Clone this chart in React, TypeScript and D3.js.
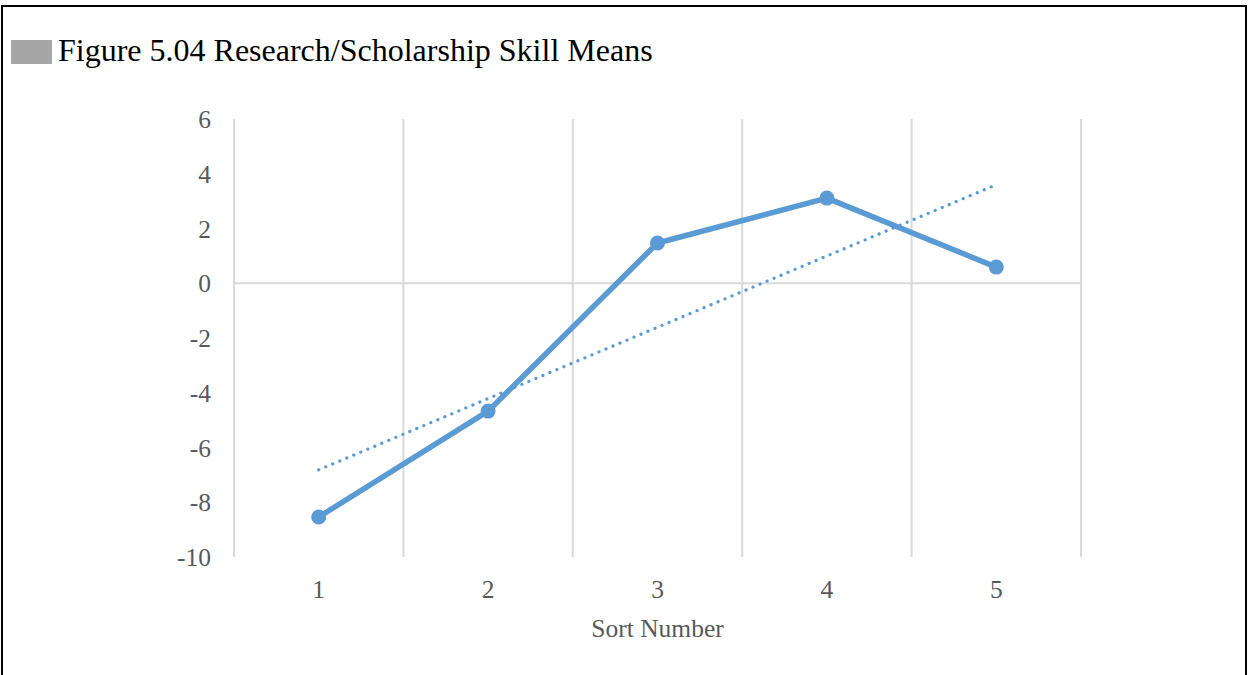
import React from "react";
import * as d3 from "d3";

const categories = ["1", "2", "3", "4", "5"];
const means = [-8.54, -4.67, 1.47, 3.11, 0.59];
const yTicks = [6, 4, 2, 0, -2, -4, -6, -8, -10];
const title = "Figure 5.04 Research/Scholarship Skill Means";
const xTitle = "Sort Number";

const W = 1248;
const H = 675;
const left = 234;
const right = 1081;
const top = 119;
const bottom = 557;
const blue = "#5b9bd5";
const font = "'Liberation Serif', 'Times New Roman', serif";
const tickSize = 25.5;

export default function App() {
  const x = d3.scaleBand<string>().domain(categories).range([left, right]).padding(0);
  const y = d3.scaleLinear().domain([-10, 6]).range([bottom, top]);
  const cx = (c: string) => (x(c) as number) + x.bandwidth() / 2;

  // linear trendline (least squares) from the data
  const xs = categories.map((_, i) => i + 1);
  const mx = d3.mean(xs) as number;
  const my = d3.mean(means) as number;
  const slope =
    d3.sum(xs.map((xi, i) => (xi - mx) * (means[i] - my))) /
    d3.sum(xs.map((xi) => (xi - mx) ** 2));
  const icpt = my - slope * mx;
  const trend = categories.map((c, i) => [cx(c), y(icpt + slope * (i + 1))] as [number, number]);

  const line = d3.line<[number, number]>();
  const pts = categories.map((c, i) => [cx(c), y(means[i])] as [number, number]);

  const gridX = [...categories.map((c) => x(c) as number), right];

  return (
    <svg width={W} height={H} style={{ position: "absolute", left: 0, top: 0, background: "#fff" }}>
      <rect x={0} y={0} width={W} height={H} fill="#fff" />
      <rect x={2} y={6} width={1244} height={H + 10} fill="none" stroke="#000" strokeWidth={2} />
      <rect x={11} y={40} width={41} height={24} fill="#a6a6a6" />
      <text x={58} y={61} fontFamily={font} fontSize={32} fill="#000">{title}</text>

      {gridX.map((gx, i) => (
        <line key={i} x1={gx} x2={gx} y1={top} y2={bottom} stroke="#d9d9d9" strokeWidth={2} />
      ))}
      <line x1={left} x2={right} y1={y(0)} y2={y(0)} stroke="#d9d9d9" strokeWidth={2} />

      {yTicks.map((t) => (
        <text key={t} x={211} y={y(t) + 9} textAnchor="end" fontFamily={font} fontSize={tickSize} fill="#595959">
          {t}
        </text>
      ))}
      {categories.map((c) => (
        <text key={c} x={cx(c)} y={598} textAnchor="middle" fontFamily={font} fontSize={tickSize} fill="#595959">
          {c}
        </text>
      ))}
      <text x={(left + right) / 2} y={637} textAnchor="middle" fontFamily={font} fontSize={tickSize} fill="#595959">
        {xTitle}
      </text>

      <path d={line(trend) || ""} fill="none" stroke={blue} strokeWidth={3.2} strokeDasharray="0.1 7.5" strokeLinecap="round" />
      <path d={line(pts) || ""} fill="none" stroke={blue} strokeWidth={5.5} strokeLinejoin="round" />
      {pts.map((p, i) => (
        <circle key={i} cx={p[0]} cy={p[1]} r={7.5} fill={blue} />
      ))}
    </svg>
  );
}
